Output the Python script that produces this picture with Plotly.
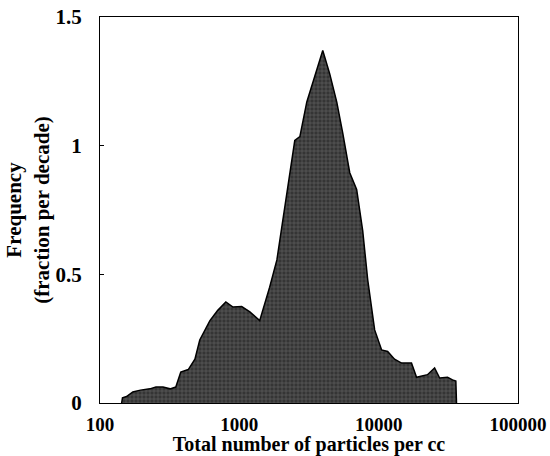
import plotly.graph_objects as go

particles_per_cc = [143, 145, 155, 172, 195, 228, 252, 283, 318, 350, 380, 430, 480, 520,
                    615, 700, 800, 900, 1040, 1190, 1400, 1650, 1860, 2120, 2500, 2720,
                    3050, 3480, 3970, 4450, 5000, 5520, 6200, 6950, 7680, 8340, 9360,
                    10500, 11600, 13000, 14600, 17200, 18700, 22400, 25200, 27400, 31200,
                    33900, 35800, 36200]
frequency = [0.0, 0.02, 0.025, 0.043, 0.05, 0.055, 0.062, 0.062, 0.055, 0.062, 0.12, 0.13,
             0.17, 0.245, 0.32, 0.36, 0.393, 0.373, 0.375, 0.354, 0.32, 0.45, 0.556, 0.76,
             1.02, 1.035, 1.17, 1.27, 1.37, 1.28, 1.17, 1.05, 0.895, 0.83, 0.67, 0.48,
             0.284, 0.206, 0.2, 0.17, 0.155, 0.155, 0.1, 0.11, 0.136, 0.097, 0.1, 0.09,
             0.085, 0.0]

x_ticks = [100, 1000, 10000, 100000]
x_tick_labels = ["100", "1000", "10000", "100000"]
y_ticks = [0, 0.5, 1, 1.5]
y_tick_labels = ["0", "0.5", "1", "1.5"]

font_family = "Liberation Serif, Times New Roman, serif"

fig = go.Figure()
fig.add_trace(go.Scatter(
    x=particles_per_cc, y=frequency, mode="lines",
    line=dict(color="black", width=1.5),
    fill="tozeroy", fillcolor="#404040",
    fillpattern=dict(shape="+", bgcolor="#353535", fgcolor="#9a9a9a",
                     size=4, solidity=0.25),
    hoverinfo="x+y", showlegend=False,
))

fig.update_layout(
    width=550, height=456,
    margin=dict(l=100, r=32, t=17, b=53),
    paper_bgcolor="white", plot_bgcolor="white",
    font=dict(family=font_family, size=20, color="black"),
)
fig.update_xaxes(
    type="log", range=[2, 5], automargin=False,
    tickvals=x_ticks, ticktext=[f"<b>{t}</b>" for t in x_tick_labels],
    showline=True, linecolor="black", linewidth=1.2, mirror=True,
    showgrid=False, zeroline=False, ticks="", ticklabelstandoff=4,
    tickfont=dict(size=19),
    title=dict(text="<b>Total number of particles per cc</b>", standoff=6,
               font=dict(size=20)),
)
fig.update_yaxes(
    range=[0, 1.5], automargin=False,
    tickvals=y_ticks, ticktext=[f"<b>{t}</b>" for t in y_tick_labels],
    showline=True, linecolor="black", linewidth=1.2, mirror=True,
    showgrid=False, zeroline=False, ticks="inside", ticklen=4, tickcolor="black",
    ticklabelstandoff=13, tickfont=dict(size=21),
    title=dict(text="<b>Frequency<br>(fraction per decade)</b>", standoff=0,
               font=dict(size=21)),
)

fig.write_html("out.html", post_script="document.body.style.margin='0';",
               config={"displayModeBar": False})
